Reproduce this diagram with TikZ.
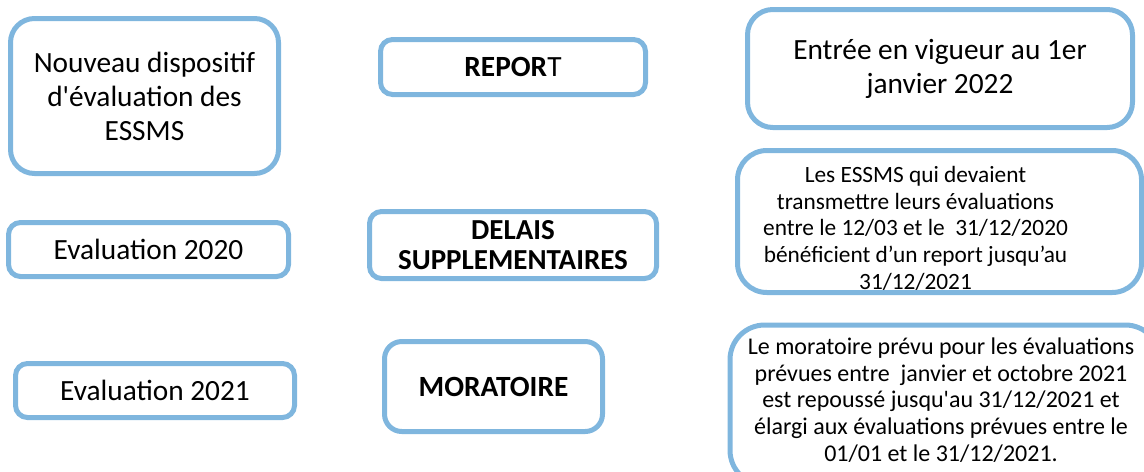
\documentclass[tikz,border=0pt]{standalone}
\usepackage{fontspec}
\setmainfont{Carlito}[Ligatures=TeXOff]
\definecolor{boxblue}{RGB}{127,182,222}
\newcommand{\bigtext}{\fontsize{22pt}{25.5pt}\selectfont}
\newcommand{\smalltext}{\fontsize{18pt}{20pt}\selectfont}
\begin{document}
\begin{tikzpicture}[x=0.75pt,y=0.75pt,yscale=-1,xscale=1,
    box/.style={draw=boxblue,line width=3.75pt,rounded corners=#1,inner sep=0pt,align=center,font=\bigtext},
    box/.default=9pt]
    \useasboundingbox (0,0) rectangle (1144,471);
    \clip (0,0) rectangle (1144,471);
    %Rounded Rect [id:nouveau]
    \node [box=18pt,minimum width=201pt,minimum height=116.25pt] (nouveau) at (144.5,96) {Nouveau dispositif\\d'évaluation des\\ESSMS};
    %Rounded Rect [id:report]
    \node [box,minimum width=198.75pt,minimum height=41.25pt] (report) at (513,67) {\textbf{REPOR}T};
    %Rounded Rect [id:vigueur]
    \node [box=19pt,minimum width=288.75pt,minimum height=88.5pt] (vigueur) at (940,68.5) {Entrée en vigueur au 1er\\janvier 2022};
    %Rounded Rect [id:eval2020]
    \node [box,minimum width=210pt,minimum height=40.5pt] (eval2020) at (148.5,249.5) {Evaluation 2020};
    %Rounded Rect [id:delais]
    \node [box,minimum width=215.25pt,minimum height=50.25pt,font=\fontsize{21.75pt}{22.5pt}\selectfont\bfseries] (delais) at (513,245) {DELAIS\\SUPPLEMENTAIRES};
    %Rounded Rect [id:essms]
    \node [box=22pt,minimum width=303pt,minimum height=106.5pt] (essms) at (939.5,221.5) {};
    %Rounded Rect [id:eval2021]
    \node [box,minimum width=209.25pt,minimum height=40.5pt] (eval2021) at (155,390.5) {Evaluation 2021};
    %Rounded Rect [id:moratoire]
    \node [box=13pt,minimum width=163.5pt,minimum height=67.5pt,font=\bigtext\bfseries] (moratoire) at (493.5,386.5) {MORATOIRE};
    %Rounded Rect [id:prevu]
    \node [box=26pt,minimum width=322.5pt,minimum height=120pt] (prevu) at (945,405) {};
    % Text Node
    \node [align=center,inner sep=0pt,font=\fontsize{17.5pt}{20pt}\selectfont] (essmstext) at ([xshift=-18pt,yshift=5pt]essms.center) {Les ESSMS qui devaient\\transmettre leurs évaluations\\entre le 12/03 et le\ \ 31/12/2020\\bénéficient d’un report jusqu’au\\31/12/2021};
    % Text Node
    \node [align=center,inner sep=0pt,font=\smalltext] (prevutext) at ([xshift=-3pt,yshift=-3.75pt]prevu.center) {Le moratoire prévu pour les évaluations\\prévues entre\ \ janvier et octobre 2021\\est repoussé jusqu'au 31/12/2021 et\\élargi aux évaluations prévues entre le\\01/01 et le 31/12/2021.};
\end{tikzpicture}
\end{document}
